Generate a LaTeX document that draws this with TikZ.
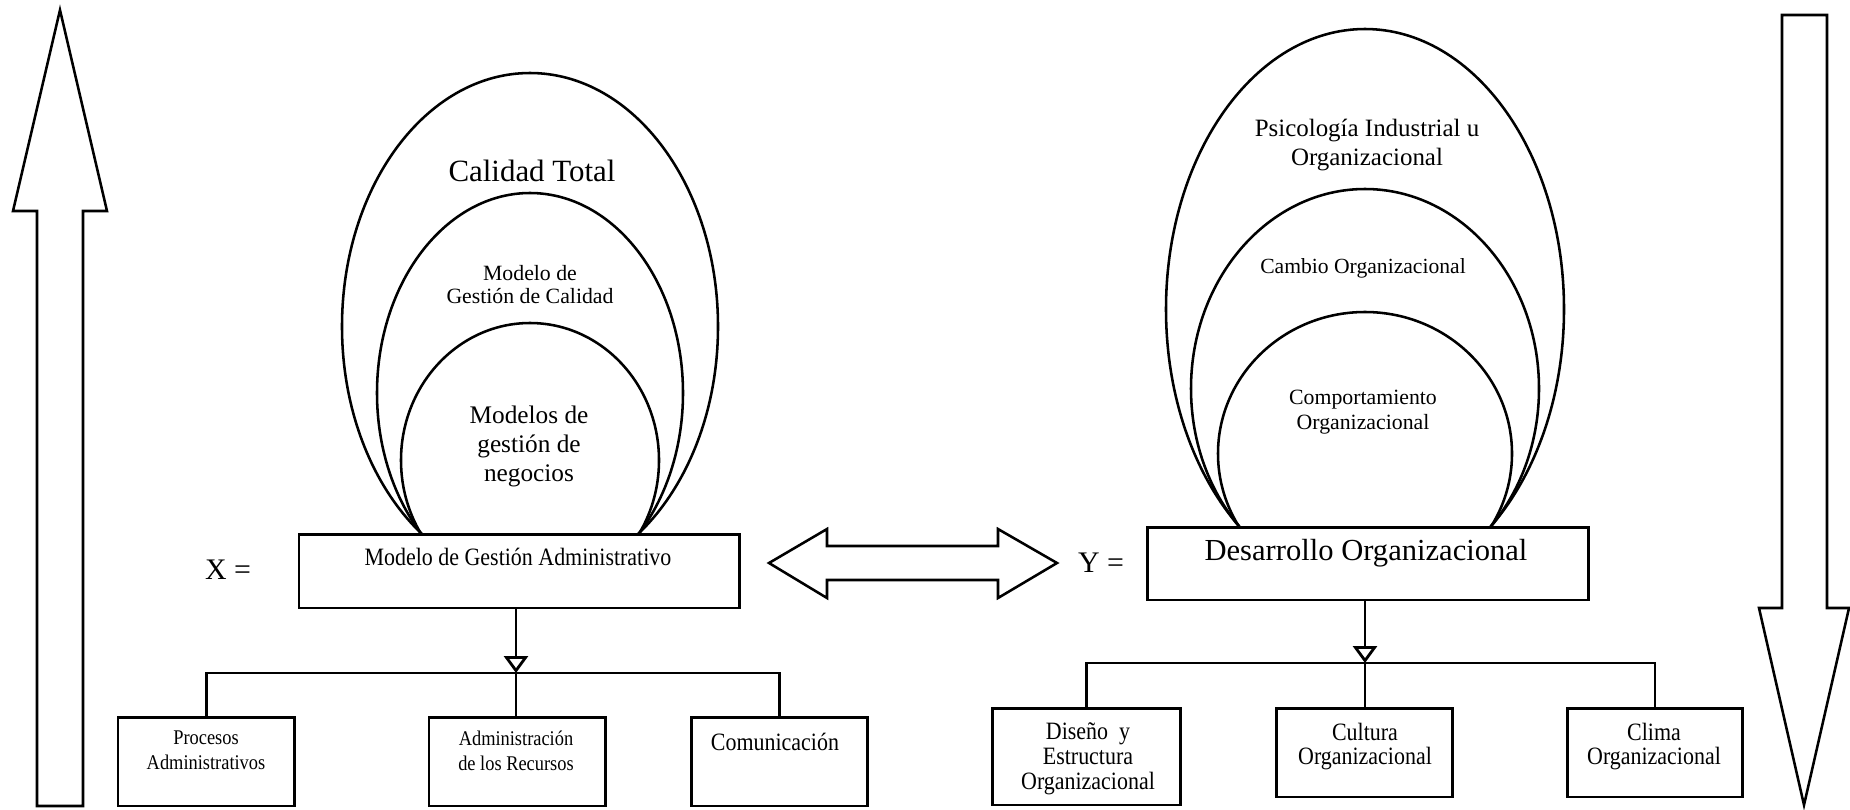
\documentclass[tikz,border=0pt]{standalone}
\usepackage{fontspec}
\setmainfont{Liberation Serif}
\newfontfamily\narrowserif{Liberation Serif}[FakeStretch=0.88]
\usetikzlibrary{arrows.meta}

\begin{document}
\begin{tikzpicture}[x=0.02cm, y=-0.02cm,
  every node/.style={inner sep=0pt, outer sep=0pt},
  outl/.style={line width=1.45pt, line join=miter},
  bigarrow/.style={outl, draw=black, fill=white},
  fbox/.style={draw, line width=1.7pt, anchor=north west, fill=white},
  lbl/.style={align=center, text=black},
  conn/.style={line width=1.6pt},
  fork/.style={conn, -{Triangle[open, width=13.6pt, length=9.6pt]}},
]
\useasboundingbox (0,0) rectangle (1850,809);

% vertical arrows at the sides
\draw[bigarrow] (60,10) -- (107,211) -- (83,211) -- (83,806) -- (37,806)
  -- (37,211) -- (13,211) -- cycle;
\draw[bigarrow] (1782,15) -- (1827,15) -- (1827,608) -- (1849,608)
  -- (1804,805) -- (1759,608) -- (1782,608) -- cycle;

% double arrow between X and Y
\draw[bigarrow] (769,563) -- (827,529) -- (827,546) -- (998,546) -- (998,529)
  -- (1057,563) -- (998,598) -- (998,580) -- (827,580) -- (827,598) -- cycle;

% nested arcs over the X box
\begin{scope}
  \clip (0,0) rectangle (1000,534);
  \draw[outl] (530,326.5) ellipse [x radius=188, y radius=253.5];
  \draw[outl] (530,393.0) ellipse [x radius=153, y radius=200];
  \draw[outl] (530,460.3) ellipse [x radius=129, y radius=137.3];
\end{scope}

% nested arcs over the Y box
\begin{scope}
  \clip (1000,0) rectangle (1700,527);
  \draw[outl] (1365,309.2) ellipse [x radius=199, y radius=280.2];
  \draw[outl] (1365,388.6) ellipse [x radius=174, y radius=199.6];
  \draw[outl] (1365,453.6) ellipse [x radius=147, y radius=141.6];
\end{scope}

% main boxes
\node[fbox, minimum width=8.82cm, minimum height=1.48cm] (mL) at (299,534) {};
\node[fbox, minimum width=8.84cm, minimum height=1.46cm] (mR) at (1147,527) {};

% lower boxes, X side
\node[fbox, minimum width=3.54cm, minimum height=1.78cm] (p1) at (118,717) {};
\node[fbox, minimum width=3.54cm, minimum height=1.78cm] (p2) at (429,717) {};
\node[fbox, minimum width=3.54cm, minimum height=1.78cm] (p3) at (691,717) {};

% lower boxes, Y side
\node[fbox, minimum width=3.78cm, minimum height=1.94cm] (q1) at (992,708) {};
\node[fbox, minimum width=3.54cm, minimum height=1.78cm] (q2) at (1276,708) {};
\node[fbox, minimum width=3.52cm, minimum height=1.78cm] (q3) at (1567,708) {};

% tree connectors
\coordinate (jL) at (516,673);
\draw[fork] (jL |- mL.south) -- (jL);
\draw[conn] (p1.north) |- (jL) -| (p3.north);
\draw[conn] (jL) -- (jL |- p2.north);

\coordinate (jR) at (1365,663);
\draw[fork] (jR |- mR.south) -- (jR);
\draw[conn] (q1.north) |- (jR) -| (q3.north);
\draw[conn] (jR) -- (jR |- q2.north);

% texts inside the arcs
\node[lbl, font=\fontsize{17.6pt}{20pt}\selectfont] (tCal) at (532,171) {Calidad Total};
\node[lbl, font=\fontsize{12.4pt}{13.6pt}\selectfont] (tMgc) at (530,284.5) {Modelo de\\Gestión de Calidad};
\node[lbl, font=\fontsize{14.4pt}{16.4pt}\selectfont] (tMgn) at (529,446.5) {Modelos de\\gestión de\\negocios};

\node[lbl, font=\fontsize{14.2pt}{16.4pt}\selectfont] (tPsi) at (1367,145) {Psicología Industrial u\\Organizacional};
\node[lbl, font=\fontsize{12.3pt}{14pt}\selectfont] (tCam) at (1363,268) {Cambio Organizacional};
\node[lbl, font=\fontsize{12.4pt}{14.2pt}\selectfont] (tCom) at (1363,412.5) {Comportamiento\\Organizacional};

% variable names
\node[lbl, font=\fontsize{17pt}{20pt}\selectfont] (tX) at (228,570) {X =};
\node[lbl, font=\fontsize{17pt}{20pt}\selectfont] (tY) at (1101,563) {Y =};

% box texts
\node[lbl, font=\narrowserif\fontsize{14.2pt}{16pt}\selectfont] (lMga) at (518,557) {Modelo de Gestión Administrativo};
\node[lbl, font=\fontsize{17.4pt}{20pt}\selectfont] (lDo) at (1366,553) {Desarrollo Organizacional};

\node[lbl, font=\narrowserif\fontsize{11.9pt}{14.2pt}\selectfont] (lP1) at (206,750.5) {Procesos\\Administrativos};
\node[lbl, font=\narrowserif\fontsize{11.9pt}{14.2pt}\selectfont] (lP2) at (516,750.5) {Administración\\de los Recursos};
\node[lbl, font=\narrowserif\fontsize{14.2pt}{16pt}\selectfont] (lP3) at (775,742) {Comunicación};

\node[lbl, font=\narrowserif\fontsize{14.2pt}{14.2pt}\selectfont] (lQ1) at (1088,759) {Diseño~~y\\Estructura\\Organizacional};
\node[lbl, font=\narrowserif\fontsize{14.2pt}{14.2pt}\selectfont] (lQ2) at (1365,746.5) {Cultura\\Organizacional};
\node[lbl, font=\narrowserif\fontsize{14.2pt}{14.2pt}\selectfont] (lQ3) at (1654,746.5) {Clima\\Organizacional};

\end{tikzpicture}
\end{document}
